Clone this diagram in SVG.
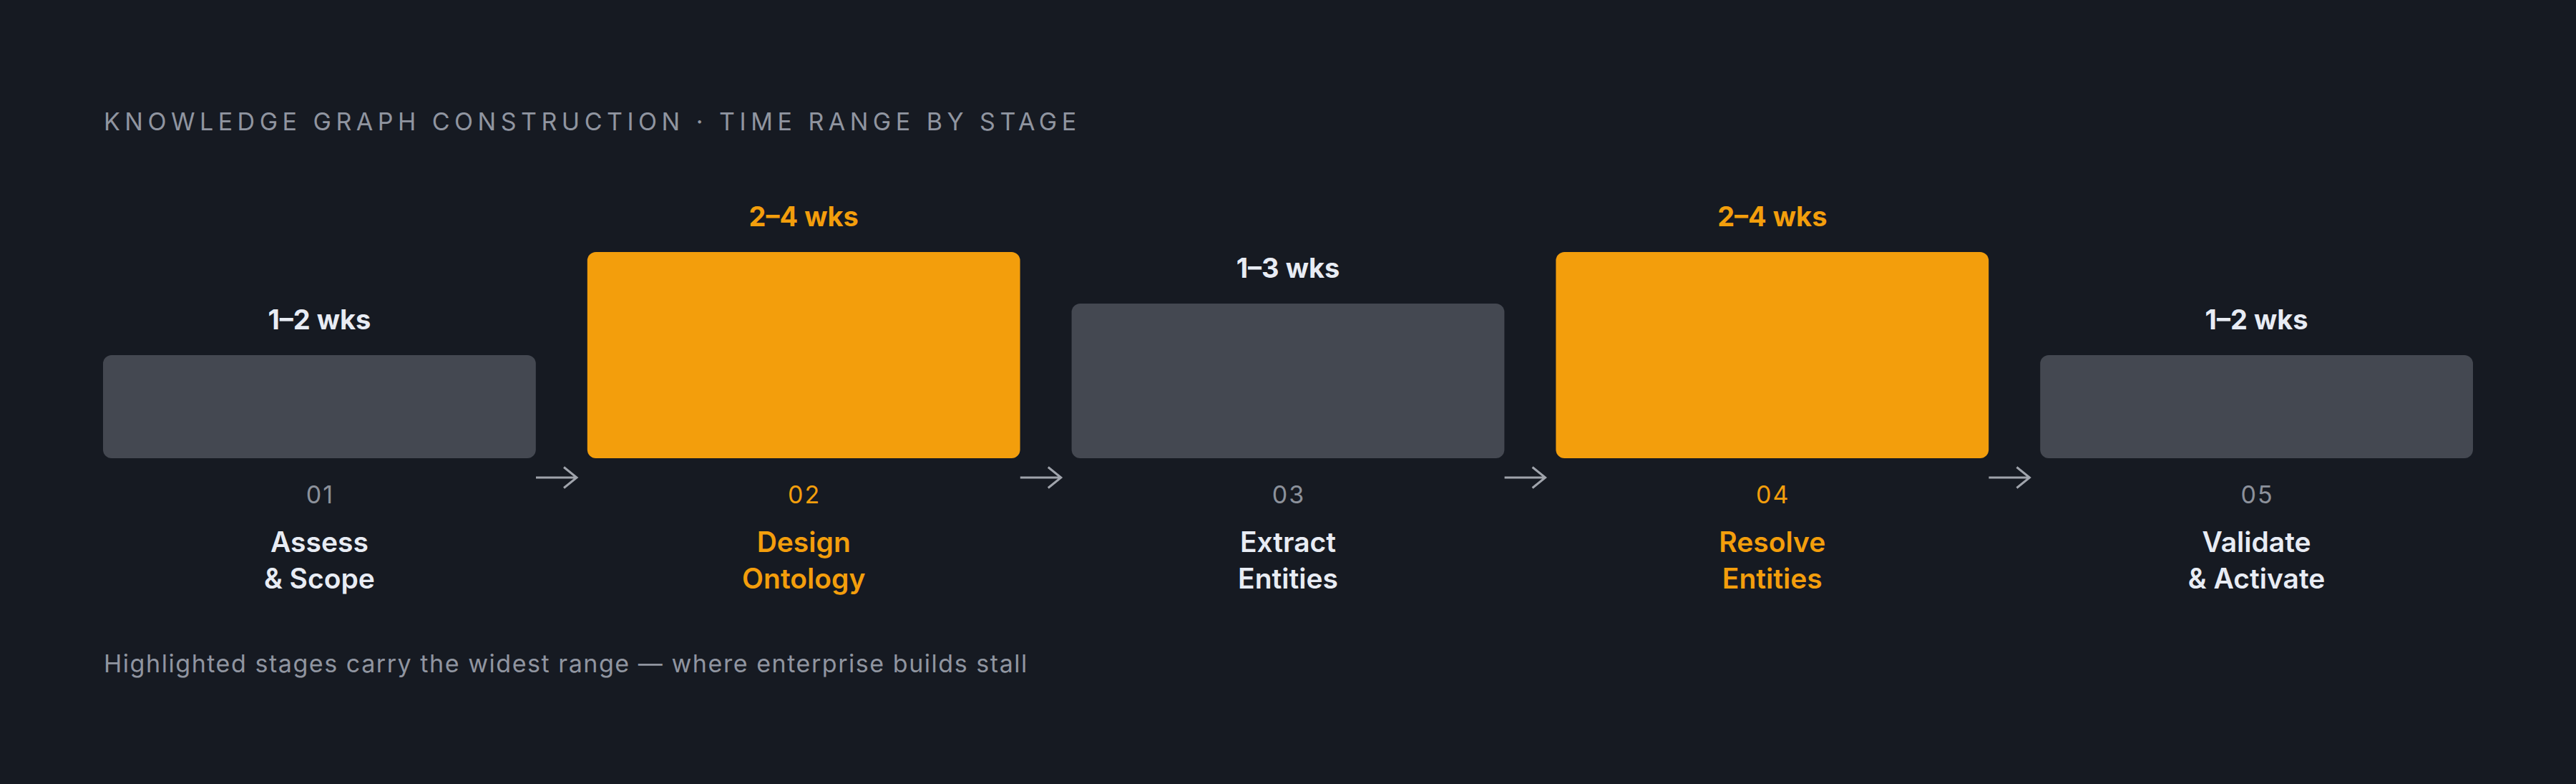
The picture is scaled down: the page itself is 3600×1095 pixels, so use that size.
<svg xmlns="http://www.w3.org/2000/svg" width="3600" height="1095" viewBox="0 0 3600 1095">
<defs>
<style>
.bg{fill:#161a22}
.bar{fill:#444851}
.bar.hi{fill:#f39e0c}
.title{font-family:Inter,"Liberation Sans",sans-serif;font-size:34px;fill:#9095a0;letter-spacing:6.5px}
.foot{font-family:Inter,"Liberation Sans",sans-serif;font-size:34px;fill:#9095a0;letter-spacing:1.55px}
.dur{font-family:Inter,"Liberation Sans",sans-serif;font-size:38px;font-weight:700;fill:#e8ecf4;text-anchor:middle}
.num{font-family:Inter,"Liberation Sans",sans-serif;font-size:34px;fill:#8c919b;text-anchor:middle;letter-spacing:2px}
.name{font-family:Inter,"Liberation Sans",sans-serif;font-size:39px;font-weight:600;fill:#e8ecf4;text-anchor:middle}
.hi-t{fill:#f39e0c}
.arrow{fill:none;stroke:#a0a4ac;stroke-width:3;stroke-linecap:butt}
</style>
</defs>
<rect class="bg" x="0" y="0" width="3600" height="1095"/>
<text class="title" x="145" y="182">KNOWLEDGE GRAPH CONSTRUCTION · TIME RANGE BY STAGE</text>

<g id="stage-01">
<text class="dur" x="446.4" y="460">1–2 wks</text>
<rect class="bar" x="144" y="496" width="604.8" height="144" rx="12"/>
<text class="num" x="447.4" y="703">01</text>
<text class="name" x="446.4" y="771">Assess</text>
<text class="name" x="446.4" y="822">&amp; Scope</text>
</g>
<g id="stage-02">
<text class="dur hi-t" x="1123.2" y="316">2–4 wks</text>
<rect class="bar hi" x="820.8" y="352" width="604.8" height="288" rx="12"/>
<text class="num hi-t" x="1124.2" y="703">02</text>
<text class="name hi-t" x="1123.2" y="771">Design</text>
<text class="name hi-t" x="1123.2" y="822">Ontology</text>
</g>
<g id="stage-03">
<text class="dur" x="1800" y="388">1–3 wks</text>
<rect class="bar" x="1497.6" y="424" width="604.8" height="216" rx="12"/>
<text class="num" x="1801" y="703">03</text>
<text class="name" x="1800" y="771">Extract</text>
<text class="name" x="1800" y="822">Entities</text>
</g>
<g id="stage-04">
<text class="dur hi-t" x="2476.8" y="316">2–4 wks</text>
<rect class="bar hi" x="2174.4" y="352" width="604.8" height="288" rx="12"/>
<text class="num hi-t" x="2477.8" y="703">04</text>
<text class="name hi-t" x="2476.8" y="771">Resolve</text>
<text class="name hi-t" x="2476.8" y="822">Entities</text>
</g>
<g id="stage-05">
<text class="dur" x="3153.6" y="460">1–2 wks</text>
<rect class="bar" x="2851.2" y="496" width="604.8" height="144" rx="12"/>
<text class="num" x="3154.6" y="703">05</text>
<text class="name" x="3153.6" y="771">Validate</text>
<text class="name" x="3153.6" y="822">&amp; Activate</text>
</g>

<g id="connectors">
<path class="arrow" d="M749 667H806M788 652.5L806 667L788 681.5"/>
<path class="arrow" d="M1425.8 667H1482.8M1464.8 652.5L1482.8 667L1464.8 681.5"/>
<path class="arrow" d="M2102.6 667H2159.6M2141.6 652.5L2159.6 667L2141.6 681.5"/>
<path class="arrow" d="M2779.4 667H2836.4M2818.4 652.5L2836.4 667L2818.4 681.5"/>
</g>

<text class="foot" x="145" y="939">Highlighted stages carry the widest range — where enterprise builds stall</text>
</svg>
